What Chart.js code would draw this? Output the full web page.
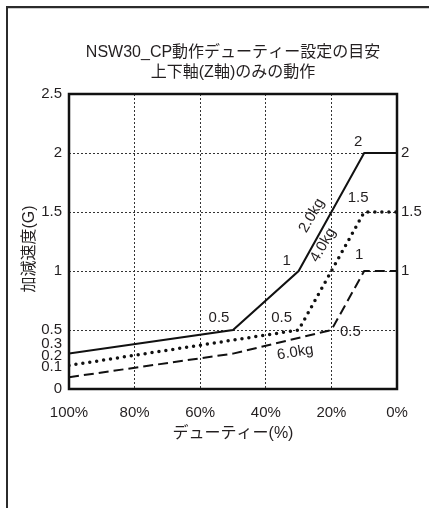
<!DOCTYPE html>
<html>
<head>
<meta charset="utf-8">
<script src="https://cdn.jsdelivr.net/npm/chart.js@4/dist/chart.umd.min.js"></script>
<style>
  html, body { margin: 0; padding: 0; background: #fff; }
  #wrap { width: 429px; height: 508px; position: relative; }
</style>
</head>
<body>
<div id="wrap"><canvas id="chart" width="429" height="508"></canvas></div>
<script>
// デューティー(%) と加減速度(G)
const duty2kg = [100, 50, 30, 10, 0];
const accel2kg = [0.3, 0.5, 1, 2, 2];
const duty4kg = [100, 30, 10, 0];
const accel4kg = [0.2, 0.5, 1.5, 1.5];
const duty6kg = [100, 50, 20, 10, 0];
const accel6kg = [0.1, 0.3, 0.5, 1, 1];

const xTicks = [100, 80, 60, 40, 20, 0];
const yTicks = [0, 0.1, 0.2, 0.3, 0.5, 1, 1.5, 2, 2.5];
const yGrid = [0.5, 1, 1.5, 2];
const yRaised = [0.1, 0.2, 0.3]; // 詰まっているラベルは少し上に

const titleLines = ['NSW30_CP動作デューティー設定の目安', '上下軸(Z軸)のみの動作'];
const xTitle = 'デューティー(%)';
const yTitle = '加減速度(G)';

// グラフ上の注記: [text, duty, G, dx, dy, 回転(度)]
const notes = [
  ['0.5', 50, 0.5, -14, -12, 0],
  ['1', 30, 1, -12, -10, 0],
  ['2', 10, 2, -6, -11, 0],
  ['0.5', 30, 0.5, -17, -12, 0],
  ['1.5', 10, 1.5, -6, -14, 0],
  ['1', 10, 1, -5, -16, 0],
  ['0.5', 20, 0.5, 19, 2, 0],
  ['2.0kg', 26, 1.47, 0, 0, -60],
  ['4.0kg', 22.5, 1.22, 0, 0, -60],
  ['6.0kg', 31, 0.31, 0, 0, -9],
  ['2', 0, 2, 4, 0, 0],
  ['1.5', 0, 1.5, 4, 0, 0],
  ['1', 0, 1, 4, 0, 0],
];

const FONT = "'Liberation Sans', 'Noto Sans CJK JP', sans-serif";
const INK = '#231f20';

const toPoints = (xs, ys) => xs.map((x, i) => ({ x, y: ys[i] }));

const decor = {
  id: 'decor',
  beforeDraw(chart) {
    const { ctx, width, height } = chart;
    ctx.save();
    ctx.fillStyle = '#fff';
    ctx.fillRect(0, 0, width, height);
    ctx.strokeStyle = '#2b2b2b';
    ctx.lineWidth = 2;
    ctx.beginPath();
    ctx.moveTo(7, height);
    ctx.lineTo(7, 7);
    ctx.lineTo(width, 7);
    ctx.stroke();
    ctx.strokeStyle = '#ccc';
    ctx.lineWidth = 1;
    ctx.beginPath();
    ctx.moveTo(8, 8.5);
    ctx.lineTo(width, 8.5);
    ctx.stroke();
    ctx.restore();
  },
  afterDraw(chart) {
    const {
      ctx,
      chartArea: { left, top, right, bottom },
      scales: { x, y },
    } = chart;
    ctx.save();
    ctx.strokeStyle = '#111';
    ctx.lineWidth = 2.5;
    ctx.strokeRect(left, top, right - left, bottom - top);

    ctx.fillStyle = INK;
    ctx.font = '16px ' + FONT;
    ctx.textAlign = 'center';
    ctx.textBaseline = 'middle';
    const cx = (left + right) / 2;
    ctx.fillText(titleLines[0], cx, 53);
    ctx.fillText(titleLines[1], cx, 73);
    ctx.fillText(xTitle, cx, 434);

    ctx.save();
    ctx.translate(30, 249);
    ctx.rotate(-Math.PI / 2);
    ctx.fillText(yTitle, 0, 0);
    ctx.restore();

    ctx.font = '15px ' + FONT;
    notes.forEach(([text, dv, gv, dx, dy, rot]) => {
      const px = x.getPixelForValue(dv) + dx;
      const py = y.getPixelForValue(gv) + dy;
      ctx.save();
      ctx.translate(px, py);
      ctx.rotate((rot * Math.PI) / 180);
      ctx.textAlign = dv === 0 ? 'left' : 'center';
      ctx.fillText(text, 0, 0);
      ctx.restore();
    });
    ctx.restore();
  },
};

new Chart(document.getElementById('chart'), {
  type: 'line',
  plugins: [decor],
  data: {
    datasets: [
      {
        label: '2.0kg',
        data: toPoints(duty2kg, accel2kg),
        borderColor: '#111',
        borderWidth: 2,
        pointRadius: 0,
      },
      {
        label: '4.0kg',
        data: toPoints(duty4kg, accel4kg),
        borderColor: '#111',
        borderWidth: 3.5,
        borderCapStyle: 'round',
        borderDash: [0, 7],
        pointRadius: 0,
      },
      {
        label: '6.0kg',
        data: toPoints(duty6kg, accel6kg),
        borderColor: '#111',
        borderWidth: 2,
        borderDash: [10, 5],
        pointRadius: 0,
      },
    ],
  },
  options: {
    responsive: false,
    animation: false,
    layout: { padding: { left: 7, right: 32, top: 94, bottom: 0 } },
    plugins: {
      legend: { display: false },
      title: { display: false },
      tooltip: { enabled: false },
    },
    scales: {
      x: {
        type: 'linear',
        reverse: true,
        min: 0,
        max: 100,
        afterBuildTicks(scale) {
          scale.ticks = xTicks.map((v) => ({ value: v }));
        },
        afterFit(scale) {
          scale.height = 119;
        },
        border: { display: false, dash: [2, 2] },
        grid: {
          drawTicks: false,
          lineWidth: 1,
          color: (c) => (c.tick && c.tick.value > 0 && c.tick.value < 100 ? '#333' : 'rgba(0,0,0,0)'),
        },
        ticks: {
          autoSkip: false,
          maxRotation: 0,
          padding: 15,
          color: INK,
          font: { size: 15, family: FONT },
          callback: (v) => v + '%',
        },
      },
      y: {
        min: 0,
        max: 2.5,
        afterBuildTicks(scale) {
          scale.ticks = yTicks.map((v) => ({ value: v }));
        },
        afterFit(scale) {
          scale.width = 62;
        },
        border: { display: false, dash: [2, 2] },
        grid: {
          drawTicks: false,
          lineWidth: 1,
          color: (c) => (c.tick && yGrid.includes(c.tick.value) ? '#333' : 'rgba(0,0,0,0)'),
        },
        ticks: {
          autoSkip: false,
          padding: 7,
          color: INK,
          font: (c) => ({
            size: 15,
            family: FONT,
            lineHeight: c.tick && yRaised.includes(c.tick.value) ? '20px' : 1.2,
          }),
          callback: (v) => (yRaised.includes(v) ? [String(v), ''] : String(v)),
        },
      },
    },
  },
});
</script>
</body>
</html>
